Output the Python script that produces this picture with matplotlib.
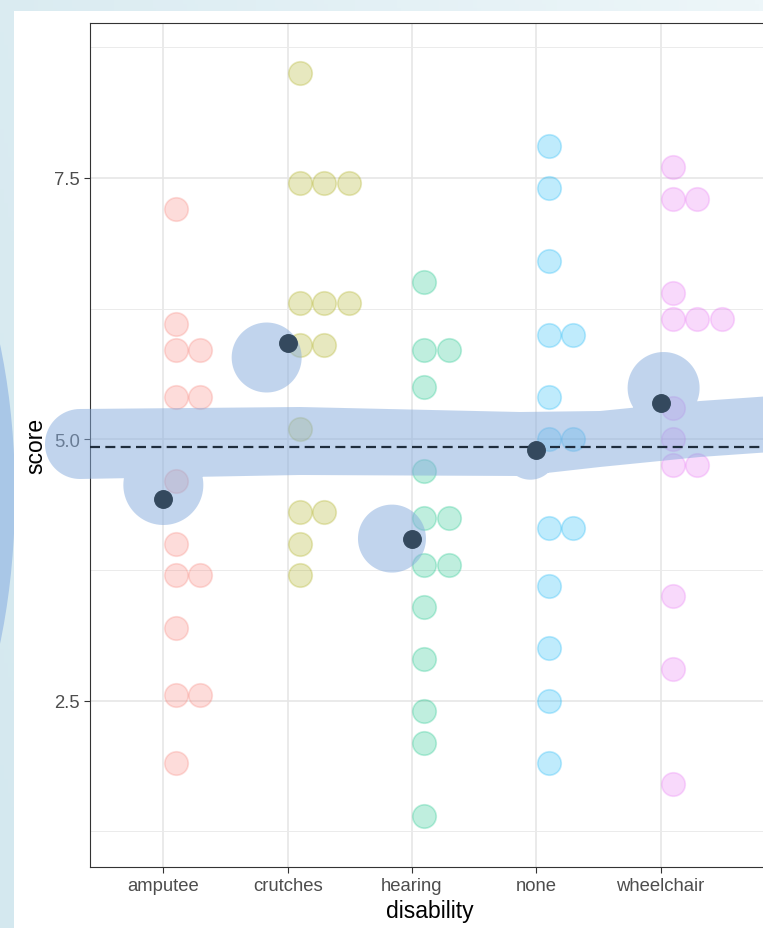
import numpy as np
import matplotlib.pyplot as plt
from matplotlib.path import Path
from matplotlib.patches import PathPatch, Ellipse, Rectangle
from matplotlib.transforms import Affine2D
from matplotlib.colors import LinearSegmentedColormap

plt.rcParams['font.family'] = ['Liberation Sans', 'DejaVu Sans']

categories = ['amputee', 'crutches', 'hearing', 'none', 'wheelchair']
colors = ['#F8766D', '#A3A500', '#00BF7D', '#00B0F6', '#E76BF3']

amputee = [7.2, 6.1, 5.85, 5.85, 5.4, 5.4, 4.6, 4.0, 3.7, 3.7, 3.2, 2.55, 2.55, 1.9]
crutches = [8.5, 7.45, 7.45, 7.45, 6.3, 6.3, 6.3, 5.9, 5.9, 5.1, 4.3, 4.3, 4.0, 3.7]
hearing = [6.5, 5.85, 5.85, 5.5, 4.7, 4.25, 4.25, 3.8, 3.8, 3.4, 2.9, 2.4, 2.1, 1.4]
none = [7.8, 7.4, 6.7, 6.0, 6.0, 5.4, 5.0, 5.0, 4.15, 4.15, 3.6, 3.0, 2.5, 1.9]
wheelchair = [7.6, 7.3, 7.3, 6.4, 6.15, 6.15, 6.15, 5.3, 5.0, 4.75, 4.75, 3.5, 2.8, 1.7]
scores = [amputee, crutches, hearing, none, wheelchair]

W, H = 763, 929
fig = plt.figure(figsize=(W / 100, H / 100), dpi=100)

# background: light blue gradient, a blurred shape on the left, white panel
bg = fig.add_axes([0, 0, 1, 1], zorder=-5)
bg.set_xlim(0, W)
bg.set_ylim(H, 0)
bg.axis('off')
gx, gy = np.meshgrid(np.linspace(0, 1, 200), np.linspace(0, 1, 200))
cmap = LinearSegmentedColormap.from_list('bgc', ['#D4E8EF', '#EDF6F9'])
bg.imshow(0.75 * gx + 0.25 * (1 - gy), cmap=cmap, extent=(0, W, H, 0), aspect='auto')
bg.add_patch(Ellipse((-150, 495), 330, 720, facecolor='#A9C7E7', edgecolor='none'))
bg.add_patch(Rectangle((14, 12), W, H, facecolor='white', edgecolor='none'))

ax = fig.add_axes([90 / W, 1 - 868 / H, 680 / W, (868 - 24) / H])
ax.set_facecolor('white')
ax.set_xlim(0.41, 5.88)
ax.set_ylim(0.91, 8.98)
ax.set_axisbelow(True)

ppu = 680 / (5.88 - 0.41)  # pixels per category unit
dot_px = 24.5
step = dot_px / ppu

for i, (vals, col) in enumerate(zip(scores, colors), start=1):
    xs, ys = [], []
    for v in sorted(set(vals)):
        k = vals.count(v)
        for j in range(k):
            xs.append(i + step / 2 + j * step)
            ys.append(v)
    ax.scatter(xs, ys, s=(dot_px * 0.72) ** 2 * 0.92, facecolor=col, edgecolor=col,
               alpha=0.25, linewidths=1.2, zorder=2)

means = [np.mean(v) for v in scores]
grand = np.mean(np.concatenate(scores))

# highlight shapes (hand-drawn look), built in pixel space of the image
to_disp = Affine2D().scale(1, -1).translate(0, H)


def oriented(verts):
    v = np.asarray(verts)
    area = np.sum(v[:-1, 0] * v[1:, 1] - v[1:, 0] * v[:-1, 1])
    return v if area > 0 else v[::-1]


def circle(cx, cy, r, n=90):
    t = np.linspace(0, 2 * np.pi, n, endpoint=False)
    return np.column_stack([cx + r * np.cos(t), cy + r * np.sin(t)])


band_c = [(80, 445, 35), (300, 442, 34), (520, 445, 32), (600, 440, 28), (700, 430, 28), (800, 423, 28)]
top = [(x, y - h) for x, y, h in band_c]
bot = [(x, y + h) for x, y, h in band_c][::-1]
cx0, cy0, r0 = band_c[0]
tt = np.linspace(np.pi / 2, 3 * np.pi / 2, 40)
cap = list(zip(cx0 + r0 * np.cos(tt), cy0 + r0 * np.sin(tt)))
shapes = [np.array(top + bot + cap)]

blob_off = [(0, -14, 40), (-21, 15, 35), (-20, 0, 34), (-6, 4, 26), (3, -15, 36)]
for i, (m, (dx, dy, r)) in enumerate(zip(means, blob_off), start=1):
    px, py = ax.transData.transform((i, m))
    shapes.append(circle(px + dx, H - py + dy, r))

paths = []
for s in shapes:
    v = oriented(np.vstack([s, s[:1]]))
    codes = [Path.MOVETO] + [Path.LINETO] * (len(v) - 2) + [Path.CLOSEPOLY]
    paths.append(Path(v, codes))
hl = PathPatch(Path.make_compound_path(*paths), facecolor='#85ABDD', edgecolor='none',
               alpha=0.5, transform=to_disp, clip_on=False, zorder=4)
ax.add_artist(hl)

ax.axhline(grand, color='#1F2D3D', lw=1.6, dashes=(4.5, 2.4), zorder=5)
ax.scatter(range(1, 6), means, s=(17.5 * 0.72) ** 2, color='#34495E', zorder=6)

ax.set_xticks(range(1, 6))
ax.set_xticklabels(categories)
ax.set_yticks([2.5, 5.0, 7.5])
ax.set_yticklabels(['2.5', '5.0', '7.5'])
ax.set_yticks([1.25, 3.75, 6.25, 8.75], minor=True)
ax.grid(which='major', color='#E6E6E6', lw=1.2)
ax.grid(which='minor', axis='y', color='#EBEBEB', lw=0.7)
ax.tick_params(which='minor', length=0)
ax.tick_params(which='major', length=4, width=0.8, color='#333333',
               labelcolor='#4D4D4D', labelsize=13.3, pad=3.5)
for sp in ax.spines.values():
    sp.set_color('#333333')
    sp.set_linewidth(0.8)

ax.set_xlabel('disability', fontsize=16.5, color='black', labelpad=3.5)
ax.set_ylabel('score', fontsize=16.5, color='black', labelpad=4.5)

fig.savefig('out.png', dpi=100)
